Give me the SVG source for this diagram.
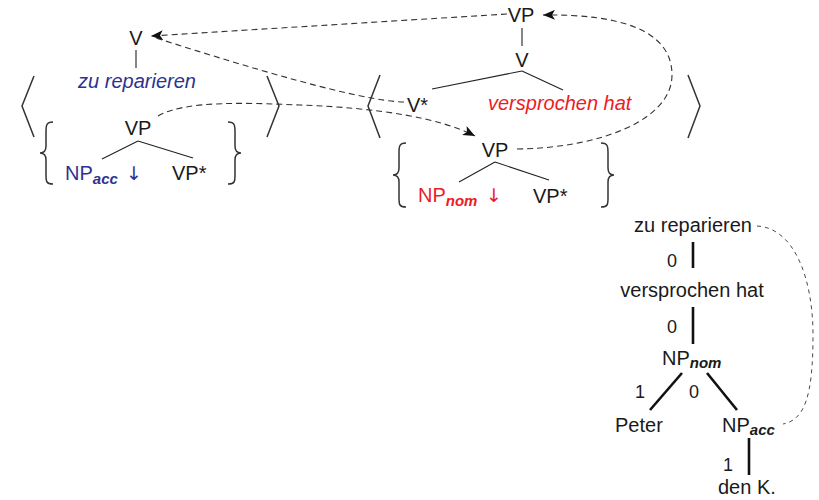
<svg xmlns="http://www.w3.org/2000/svg" width="819" height="500" viewBox="0 0 819 500">
<defs>
<style>
text{font-family:"Liberation Sans",Arial,sans-serif;font-size:20px;fill:#1a1a1a}
.m{text-anchor:middle}
.blue{fill:#2e3192}
.red{fill:#ed1c24}
.it{font-style:italic}
.sub{font-size:15px;font-style:italic;font-weight:bold}
.arrow{font-family:"DejaVu Sans",sans-serif;font-size:19px;text-anchor:middle}
.num{font-size:18px;text-anchor:middle}
.br{stroke:#222;stroke-width:1.1;fill:none}
.tr{stroke:#111;stroke-width:2.6;fill:none}
.ang{stroke:#333;stroke-width:1.5;fill:none}
.dash{stroke:#333;stroke-width:1.1;fill:none;stroke-dasharray:6 4}
.fdash{stroke:#333;stroke-width:0.9;fill:none;stroke-dasharray:4 4}
</style>
<marker id="arr" viewBox="0 0 12 10" refX="12" refY="5" markerWidth="12" markerHeight="10" markerUnits="userSpaceOnUse" orient="auto">
<path d="M0,0 L12,5 L0,10 L3,5 z" fill="#111"/>
</marker>
</defs>

<!-- brackets -->
<g id="brackets">
<polyline class="ang" points="34,76 22,106 34,137"/>
<polyline class="ang" points="267,76 279,106 267,137"/>
<polyline class="ang" points="380,75 368,106 380,138"/>
<polyline class="ang" points="688,75 700,106 688,138"/>
<path class="ang" d="M53,122 C46,122 46,126 46,132 L46,146 C46,151 44,153 40,153 C44,153 46,155 46,160 L46,175 C46,181 46,184 53,184"/>
<path class="ang" d="M228,122 C235,122 235,126 235,132 L235,146 C235,151 237,153 241,153 C237,153 235,155 235,160 L235,175 C235,181 235,184 228,184"/>
<path class="ang" d="M406,143 C399,143 399,147 399,153 L399,168 C399,173 397,175 393,175 C397,175 399,177 399,182 L399,198 C399,204 399,207 406,207"/>
<path class="ang" d="M601,143 C608,143 608,147 608,153 L608,168 C608,173 610,175 614,175 C610,175 608,177 608,182 L608,198 C608,204 608,207 601,207"/>
</g>

<!-- left elementary tree -->
<g id="L_V"><text class="m" x="136" y="45">V</text></g>
<g id="L_anchor"><text class="m it blue" x="137" y="88">zu reparieren</text></g>
<g id="L_VP"><text class="m" x="138" y="135">VP</text></g>
<g id="L_NPacc"><text x="65" y="180" class="blue">NP<tspan class="sub" dy="4">acc</tspan></text><text class="arrow blue" x="134" y="180">↓</text></g>
<g id="L_VPstar"><text x="172" y="180">VP*</text></g>

<!-- middle elementary tree -->
<g id="M_VPtop"><text class="m" x="521" y="22">VP</text></g>
<g id="M_V"><text class="m" x="522" y="67">V</text></g>
<g id="M_Vstar"><text x="407" y="112">V*</text></g>
<g id="M_anchor"><text class="it red" x="488" y="110">versprochen hat</text></g>
<g id="M_VP"><text class="m" x="495" y="157">VP</text></g>
<g id="M_NPnom"><text x="418" y="202" class="red">NP<tspan class="sub" dy="4">nom</tspan></text><text class="arrow red" x="494" y="202">↓</text></g>
<g id="M_VPstar"><text x="533" y="203">VP*</text></g>

<!-- derivation tree -->
<g id="D_zu"><text class="m" x="693" y="232">zu reparieren</text></g>
<g id="D_vh"><text class="m" x="692" y="297">versprochen hat</text></g>
<g id="D_NPnom"><text x="662" y="365">NP<tspan class="sub" dy="3">nom</tspan></text></g>
<g id="D_Peter"><text x="615" y="432">Peter</text></g>
<g id="D_NPacc"><text x="722" y="432">NP<tspan class="sub" dy="3">acc</tspan></text></g>
<g id="D_denK"><text x="718" y="494">den K.</text></g>

<g id="connectors">
<line class="br" x1="136" y1="50" x2="136" y2="68"/>
<line class="br" x1="138" y1="141" x2="102" y2="159"/>
<line class="br" x1="138" y1="141" x2="193" y2="158"/>
<line class="br" x1="522" y1="28" x2="522" y2="46"/>
<line class="br" x1="522" y1="71" x2="432" y2="89"/>
<line class="br" x1="522" y1="71" x2="563" y2="90"/>
<line class="br" x1="495" y1="162" x2="459" y2="182"/>
<line class="br" x1="495" y1="162" x2="549" y2="180"/>

<line class="tr" x1="693" y1="242" x2="693" y2="268"/>
<line class="tr" x1="693" y1="307" x2="693" y2="344"/>
<line class="tr" x1="682" y1="373" x2="650" y2="410"/>
<line class="tr" x1="707" y1="373" x2="737" y2="410"/>
<line class="tr" x1="749" y1="438" x2="749" y2="475"/>
<text class="num" x="672" y="267">0</text>
<text class="num" x="672" y="333">0</text>
<text class="num" x="640" y="398">1</text>
<text class="num" x="694" y="398">0</text>
<text class="num" x="728" y="471">1</text>

<path class="dash" d="M507,14 L151,36" marker-end="url(#arr)"/>
<path class="dash" d="M404,102 C360,101 250,68 153,37"/>
<path class="dash" d="M158,116 C185,100 250,103 300,105 C380,108 440,118 475,136" marker-end="url(#arr)"/>
<path class="dash" d="M517,149 C600,148 672,120 672,75 C672,30 620,14 543,15" marker-end="url(#arr)"/>
<path class="fdash" d="M757,226 C795,228 813,280 813,335 C813,395 805,420 783,424"/>
</g>
</svg>
